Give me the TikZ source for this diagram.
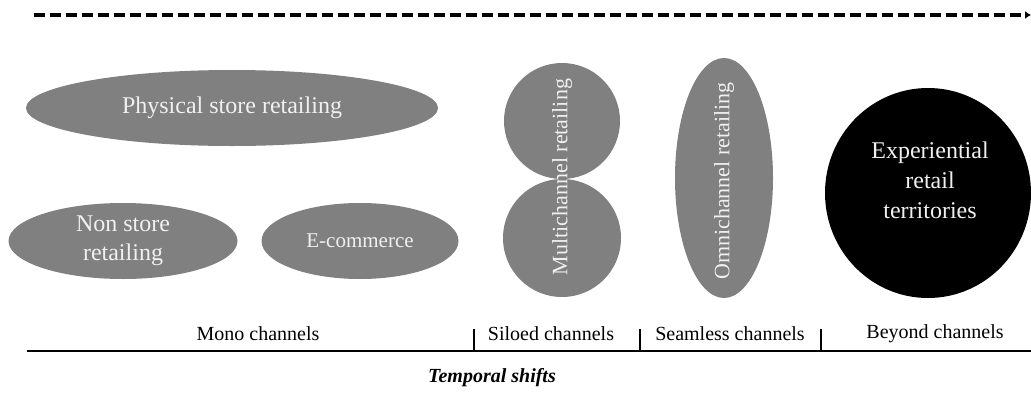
\documentclass[tikz,border=0pt]{standalone}
\usepackage{fontspec}
\setmainfont{Liberation Serif}
\usetikzlibrary{shapes.geometric,arrows.meta}
\definecolor{shapegray}{RGB}{128,128,128}
\definecolor{txtlight}{RGB}{240,240,240}
\begin{document}
\begin{tikzpicture}[x=1pt,y=-1pt,
  blob/.style={ellipse,fill=shapegray,draw=none,inner sep=0pt},
  intext/.style={inner sep=0pt,text=txtlight,align=center},
  lbl/.style={inner sep=0pt,font=\fontsize{20}{22}\selectfont},
  axisline/.style={line width=2.2pt},
  tickline/.style={line width=1.4pt}]
\useasboundingbox (0,0) rectangle (1031,394);
% timeline arrow
\coordinate (ds) at (34,15);
\coordinate (de) at (1031,15);
\draw[line width=4pt,dash pattern=on 11pt off 5pt,-{Latex[length=6pt,width=8pt]}] (ds) -- (de);
% mono channels
\node[blob,minimum width=412pt,minimum height=76pt] (phys) at (232,108) {};
\node[intext,font=\fontsize{24}{26}\selectfont] (physt) at (phys.center) {Physical store retailing};
\node[blob,minimum width=229pt,minimum height=76pt] (nonstore) at (123,241) {};
\node[intext,font=\fontsize{24}{29}\selectfont] (nonstoret) at (nonstore.center) {Non store\\retailing};
\node[blob,minimum width=197pt,minimum height=76pt] (ecom) at (360,241) {};
\node[intext,font=\fontsize{21}{24}\selectfont] (ecomt) at (ecom.center) {E-commerce};
% multichannel
\node[circle,fill=shapegray,draw=none,minimum size=116pt,inner sep=0pt] (mtop) at (562,121) {};
\node[circle,fill=shapegray,draw=none,minimum size=118pt,inner sep=0pt] (mbot) at (562,238) {};
\node[intext,rotate=90,font=\fontsize{22}{24}\selectfont] (mtext) at (562,177) {Multichannel retailing};
% omnichannel
\node[blob,minimum width=98pt,minimum height=240pt] (omni) at (724,178) {};
\node[intext,rotate=90,font=\fontsize{22}{24}\selectfont] (omnit) at (724,181) {Omnichannel retailing};
% experiential
\node[ellipse,fill=black,draw=none,minimum width=206pt,minimum height=210pt,inner sep=0pt] (exp) at (928,193) {};
\node[intext,font=\fontsize{24}{30}\selectfont] (exptext) at (930,180) {Experiential\\retail\\territories};
% axis
\coordinate (as) at (27,351);
\coordinate (ae) at (1031,351);
\draw[axisline] (as) -- (ae);
\coordinate (t1a) at (474,329); \coordinate (t1b) at (474,351);
\coordinate (t2a) at (640,329); \coordinate (t2b) at (640,351);
\coordinate (t3a) at (821,329); \coordinate (t3b) at (821,351);
\draw[tickline] (t1a) -- (t1b);
\draw[tickline] (t2a) -- (t2b);
\draw[tickline] (t3a) -- (t3b);
\node[lbl] (mono) at (258,334) {Mono channels};
\node[lbl] (siloed) at (551,334) {Siloed channels};
\node[lbl] (seamless) at (730,334) {Seamless channels};
\node[lbl] (beyond) at (935,334) {Beyond channels};
\node[inner sep=0pt,font=\fontsize{20}{22}\selectfont\bfseries\itshape] (temporal) at (492,378) {Temporal shifts};
\end{tikzpicture}
\end{document}
